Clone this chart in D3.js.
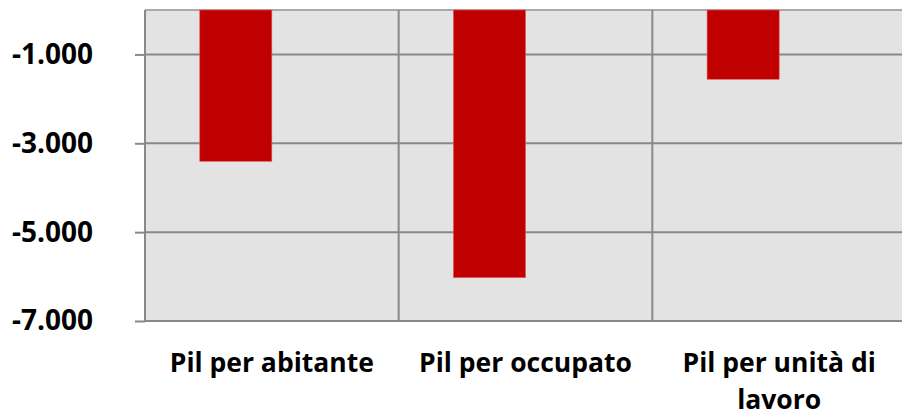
<!DOCTYPE html>
<meta charset="utf-8">
<head>
  <title>Pil</title>
</head>
<style>
body { margin: 0; background: #fff; }
.grid line { stroke: #898989; stroke-width: 2px; }
.axis text { font-family: "Open Sans", sans-serif; font-weight: bold; fill: #000; }
.bar { fill: #c00000; stroke: #e05a5a; stroke-width: 0.6px; }
</style>
<body>
<script src="https://cdnjs.cloudflare.com/ajax/libs/d3/7.8.5/d3.min.js"></script>
<script>

// data
var categories = ["Pil per abitante", "Pil per occupato", "Pil per unità di lavoro"];
var values = [-3405, -6024, -1559];
var series = ["valore", "vuoto"];      // second slot of each cluster is empty
var yTicks = [-1000, -3000, -5000, -7000];

// set the dimensions and margins of the graph
var margin = {top: 10, right: 0, bottom: 93, left: 145},
    width = 761,
    height = 311;

var it = d3.formatLocale({decimal: ",", thousands: ".", grouping: [3], currency: ["€", ""], minus: "-"});
var fmtTick = function(d) { return it.format(",")(d); };

var x = d3.scaleBand().domain(categories).range([0, width]);
var x1 = d3.scaleBand().domain(series).range([0, x.bandwidth()]).paddingOuter(0.76);
var y = d3.scaleLinear().domain([-7000, 0]).range([height, 0]);

var svg = d3.select("body").append("svg")
    .attr("width", 902)
    .attr("height", 414)
  .append("g")
    .attr("transform", "translate(" + margin.left + "," + margin.top + ")");

// plot background
svg.append("rect")
    .attr("width", width)
    .attr("height", height)
    .attr("fill", "#e3e3e3");

// top border
svg.append("line")
    .attr("x1", 0).attr("x2", width)
    .attr("y1", y(0)).attr("y2", y(0))
    .attr("stroke", "#a9a9a9")
    .attr("stroke-width", 2);

// horizontal gridlines
svg.append("g")
    .attr("class", "grid")
    .selectAll("line")
    .data(yTicks)
    .enter().append("line")
      .attr("x1", 0).attr("x2", width)
      .attr("y1", function(d) { return y(d); })
      .attr("y2", function(d) { return y(d); });

// vertical category dividers
svg.append("g")
    .attr("class", "grid")
    .selectAll("line")
    .data(categories.slice(1))
    .enter().append("line")
      .attr("x1", function(d) { return x(d); })
      .attr("x2", function(d) { return x(d); })
      .attr("y1", 0).attr("y2", height);

// bars
svg.selectAll(".bar")
    .data(values)
    .enter().append("rect")
      .attr("class", "bar")
      .attr("x", function(d, i) { return x(categories[i]) + x1("valore"); })
      .attr("width", x1.bandwidth())
      .attr("y", y(0))
      .attr("height", function(d) { return y(d) - y(0); });

// y axis
var yAxis = svg.append("g")
    .attr("class", "axis")
    .call(d3.axisLeft(y).tickValues(yTicks).tickFormat(fmtTick).tickSize(10).tickPadding(42));
yAxis.select(".domain").attr("stroke", "#898989").attr("stroke-width", 2).attr("d", "M0,0V" + height);
yAxis.selectAll(".tick line").attr("stroke", "#898989").attr("stroke-width", 2);
yAxis.selectAll(".tick text").style("font-size", "28px");

// x labels (wrapped)
var xLab = svg.append("g")
    .attr("class", "axis")
    .selectAll("text")
    .data(categories)
    .enter().append("text")
      .attr("text-anchor", "middle")
      .attr("x", function(d) { return x(d) + x.bandwidth() / 2; })
      .attr("y", height + 51)
      .style("font-size", "26.5px");

xLab.each(function(d) {
  var lines = d === "Pil per unità di lavoro" ? ["Pil per unità di", "lavoro"] : [d];
  var t = d3.select(this);
  lines.forEach(function(l, i) {
    t.append("tspan")
      .attr("x", t.attr("x"))
      .attr("dy", i === 0 ? 0 : 37)
      .text(l);
  });
});

</script>
</body>
